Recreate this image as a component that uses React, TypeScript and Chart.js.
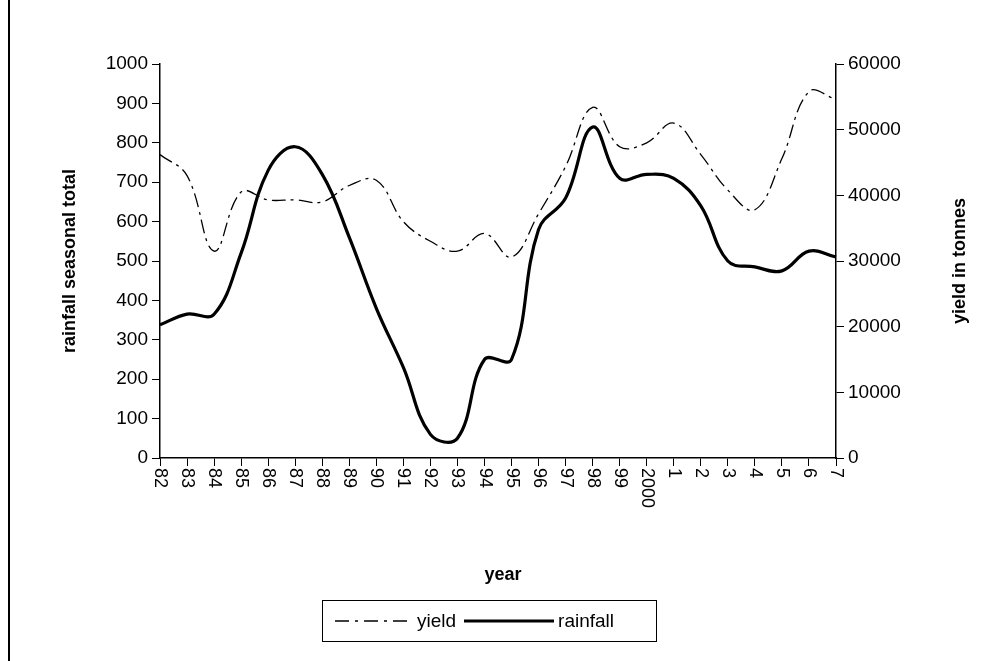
import React, { useEffect, useRef } from 'react';
import { Chart, registerables } from 'chart.js';

Chart.register(...registerables);

const years = ['82','83','84','85','86','87','88','89','90','91','92','93','94','95','96','97','98','99','2000','1','2','3','4','5','6','7'];
const rainfall = [338,365,365,520,730,790,720,560,380,230,60,50,250,250,580,660,840,710,720,710,640,500,485,475,525,510];
const yieldTonnes = [46200,43000,31500,40500,39300,39300,39000,41500,42300,36000,33000,31500,34200,30600,37200,44400,53400,47400,48000,51000,46200,40800,37800,45600,55800,54600];

const FONT = 'Liberation Sans, Arial, sans-serif';

const labelsPlugin = {
  id: 'customLabels',
  afterDraw(chart: any) {
    const { ctx, scales, chartArea } = chart;
    const x = scales.x;
    ctx.save();
    ctx.fillStyle = '#000';
    ctx.font = `18px ${FONT}`;
    ctx.textBaseline = 'middle';
    ctx.textAlign = 'left';
    years.forEach((y, i) => {
      const px = x.getPixelForValue(i);
      ctx.save();
      ctx.translate(px, chartArea.bottom + 10);
      ctx.rotate(Math.PI / 2);
      ctx.fillText(y, 0, 0);
      ctx.restore();
    });
    ctx.font = `bold 18px ${FONT}`;
    ctx.textAlign = 'center';
    ctx.fillText('year', (chartArea.left + chartArea.right) / 2 + 5, 575);
    ctx.save();
    ctx.translate(70, (chartArea.top + chartArea.bottom) / 2);
    ctx.rotate(-Math.PI / 2);
    ctx.fillText('rainfall seasonal total', 0, 0);
    ctx.restore();
    ctx.save();
    ctx.translate(960, (chartArea.top + chartArea.bottom) / 2);
    ctx.rotate(-Math.PI / 2);
    ctx.fillText('yield in tonnes', 0, 0);
    ctx.restore();
    ctx.restore();
  },
};

const App: React.FC = () => {
  const canvasRef = useRef<HTMLCanvasElement>(null);

  useEffect(() => {
    if (!canvasRef.current) return;
    const chart = new Chart(canvasRef.current, {
      type: 'line',
      data: {
        labels: years,
        datasets: [
          {
            label: 'yield',
            data: yieldTonnes,
            yAxisID: 'y1',
            borderColor: '#000',
            borderWidth: 1.3,
            borderDash: [14, 5, 3, 5],
            pointRadius: 0,
            tension: 0.4,
            fill: false,
          },
          {
            label: 'rainfall',
            data: rainfall,
            yAxisID: 'y',
            borderColor: '#000',
            borderWidth: 3.2,
            pointRadius: 0,
            tension: 0.4,
            fill: false,
          },
        ],
      },
      options: {
        animation: false,
        responsive: false,
        layout: { padding: { top: 64, left: 0, right: 0, bottom: 0 } },
        plugins: { legend: { display: false }, tooltip: { enabled: false } },
        scales: {
          x: {
            offset: false,
            grid: { display: true, drawOnChartArea: false, tickLength: 8, color: '#000' },
            border: { color: '#000', width: 1.5 },
            ticks: { display: false },
            afterFit: (s: any) => { s.height = 203; },
          },
          y: {
            min: 0, max: 1000,
            ticks: { stepSize: 100, color: '#000', font: { family: FONT, size: 19 }, padding: 4, callback: (v: any) => String(v) },
            grid: { display: true, drawOnChartArea: false, tickLength: 8, color: '#000' },
            border: { color: '#000', width: 1.5 },
            afterFit: (s: any) => { s.width = 160; },
          },
          y1: {
            position: 'right',
            min: 0, max: 60000,
            ticks: { stepSize: 10000, color: '#000', font: { family: FONT, size: 19 }, padding: 4, callback: (v: any) => String(v) },
            grid: { display: true, drawOnChartArea: false, tickLength: 8, color: '#000' },
            border: { color: '#000', width: 1.5 },
            afterFit: (s: any) => { s.width = 153; },
          },
        },
      },
      plugins: [labelsPlugin],
    });
    return () => chart.destroy();
  }, []);

  return (
    <div style={{ position: 'fixed', left: 0, top: 0, width: 989, height: 661, background: '#fff', fontFamily: FONT }}>
      <div style={{ position: 'absolute', left: 8, top: 0, width: 2, height: 661, background: '#000' }} />
      <canvas ref={canvasRef} width={989} height={661} style={{ position: 'absolute', left: 0, top: 0 }} />
      <div style={{ position: 'absolute', left: 322, top: 600, width: 335, height: 42, border: '1px solid #000', boxSizing: 'border-box', display: 'flex', alignItems: 'center', fontSize: 19 }}>
        <svg width="76" height="10" style={{ marginLeft: 12 }}><line x1="0" y1="5" x2="76" y2="5" stroke="#000" strokeWidth="1.3" strokeDasharray="14 6 3 6" /></svg>
        <span style={{ marginLeft: 6 }}>yield</span>
        <svg width="90" height="10" style={{ marginLeft: 8 }}><line x1="0" y1="5" x2="90" y2="5" stroke="#000" strokeWidth="3" /></svg>
        <span style={{ marginLeft: 4 }}>rainfall</span>
      </div>
    </div>
  );
};

export default App;
